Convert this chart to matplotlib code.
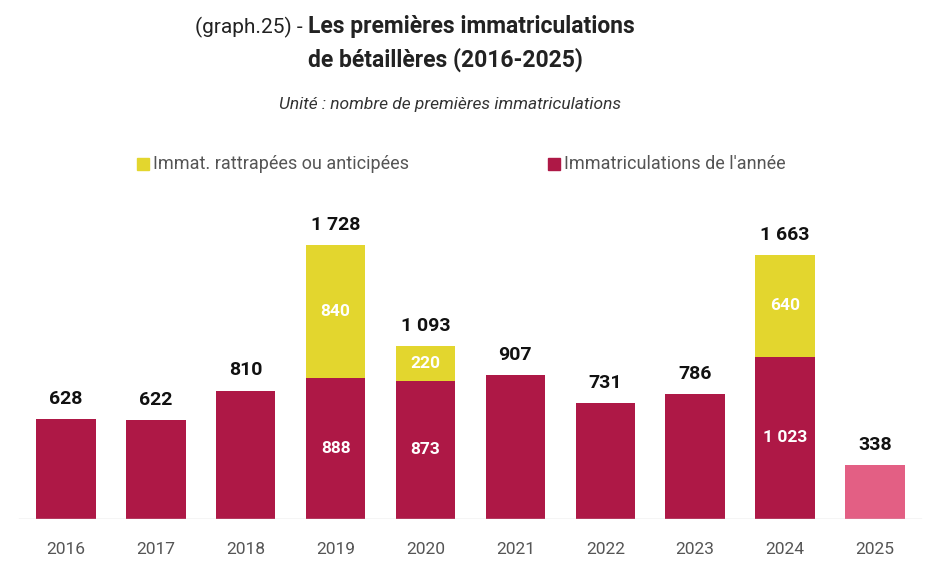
import matplotlib
matplotlib.use("Agg")
import matplotlib.pyplot as plt

years = ["2016", "2017", "2018", "2019", "2020", "2021", "2022", "2023", "2024", "2025"]
annee = [628, 622, 810, 888, 873, 907, 731, 786, 1023, 338]
rattrap = [0, 0, 0, 840, 220, 0, 0, 0, 640, 0]

CRIMSON, YEL, PINK, GREY = "#AE1846", "#E3D62E", "#E35F84", "#555555"

plt.rcParams["font.family"] = ["Roboto", "DejaVu Sans"]
fig = plt.figure(figsize=(9.45, 5.76), dpi=100)
ax = fig.add_axes([0, 1 - 519 / 576, 1, (519 - 200) / 576])
x = list(range(len(years)))
cols = [CRIMSON] * 9 + [PINK]
ax.bar(x, annee, width=0.66, color=cols)
ax.bar(x, rattrap, bottom=annee, width=0.66, color=YEL)
ax.set_xlim(-0.734, 9.78)
ax.set_ylim(0, 2011)
ax.axis("off")
ax.axhline(0, xmin=0.02, xmax=0.975, color="#CCCCCC", lw=1)

def fmt(v):
    return f"{v:,}".replace(",", " ")

for i in x:
    tot = annee[i] + rattrap[i]
    ax.text(i, tot + 70, fmt(tot), ha="center", va="bottom", fontsize=14,
            fontweight="bold", color="#111111")
    ax.text(i, -190, years[i], ha="center", va="center", fontsize=12.5, color=GREY)
    if rattrap[i]:
        ax.text(i, annee[i] / 2, fmt(annee[i]), ha="center", va="center",
                fontsize=12.5, fontweight="bold", color="white")
        ax.text(i, annee[i] + rattrap[i] / 2, fmt(rattrap[i]), ha="center",
                va="center", fontsize=12.5, fontweight="bold", color="white")

fig.text(0.326, 1 - 27 / 576, "(graph.25) - ", ha="right", va="center",
         fontsize=15, color="#222222")
fig.text(0.326, 1 - 27 / 576, "Les premières immatriculations", ha="left",
         va="center", fontsize=16.5, fontweight="bold", color="#222222")
fig.text(0.471, 1 - 60 / 576, "de bétaillères (2016-2025)", ha="center",
         va="center", fontsize=16.5, fontweight="bold", color="#222222")
fig.text(0.476, 1 - 104 / 576, "Unité : nombre de premières immatriculations",
         ha="center", va="center", fontsize=12.5, style="italic", color="#333333")

for px, c, lab in [(137, YEL, "Immat. rattrapées ou anticipées"),
                   (548, CRIMSON, "Immatriculations de l'année")]:
    fig.patches.append(plt.Rectangle((px / 945, 1 - 170 / 576), 12 / 945, 12 / 576,
                                     transform=fig.transFigure, color=c))
    fig.text((px + 16) / 945, 1 - 164 / 576, lab, ha="left", va="center",
             fontsize=13, color=GREY)

fig.savefig("out.png", dpi=100)
